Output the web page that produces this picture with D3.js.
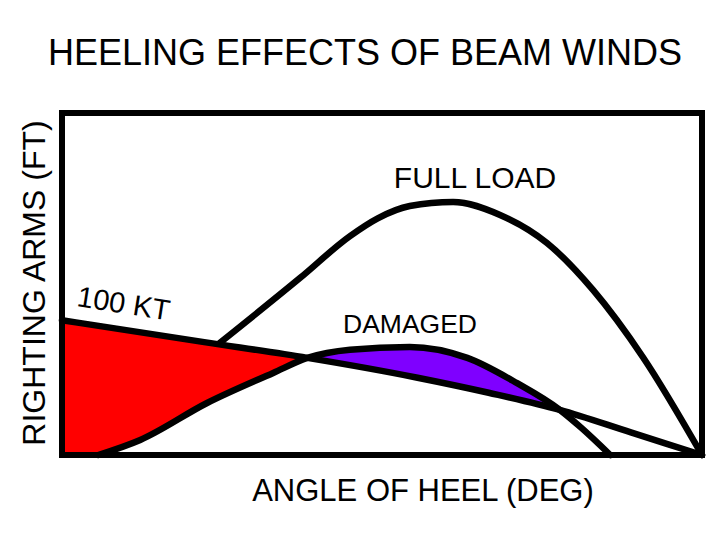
<!DOCTYPE html>
<html>
<head>
<meta charset="utf-8">
<script src="https://cdn.jsdelivr.net/npm/d3@7"></script>
<style>
  body { margin: 0; background: #fff; }
  text { font-family: "Liberation Sans", Arial, sans-serif; fill: #000; }
</style>
</head>
<body>
<div id="chart"></div>
<script>
// angle of heel (deg) / righting arm (ft)
const windArm = [[0, 1.97], [20, 1.65], [34.5, 1.42], [50, 1.13], [60, 0.91], [70, 0.66], [80, 0.33], [90, 0]];
const fullLoad = [[22.2, 1.64], [33.5, 2.59], [40.5, 3.20], [44.4, 3.46], [48.9, 3.64], [55, 3.70],
  [61.6, 3.51], [68.2, 3.10], [74.7, 2.41], [81.7, 1.43], [90, 0]];
const damaged = [[5.1, 0], [11, 0.22], [20.4, 0.76], [29.7, 1.20], [34.5, 1.42], [40.5, 1.54],
  [48.9, 1.58], [57, 1.42], [64, 1.05], [70, 0.66], [73, 0.40], [77.1, 0]];
const crossA = 34.5, crossB = 70;

const width = 720, height = 540;
const svg = d3.select("#chart")
  .append("svg")
  .attr("width", width)
  .attr("height", height);

const x = d3.scaleLinear().domain([0, 90]).range([62, 702]);
const y = d3.scaleLinear().domain([0, 5]).range([455, 113]);

const line = d3.line()
  .x(d => x(d[0]))
  .y(d => y(d[1]))
  .curve(d3.curveMonotoneX);

// red: wind arm above damaged curve
const redTop = windArm.filter(d => d[0] <= crossA);
const redBottom = damaged.filter(d => d[0] <= crossA).reverse();
const redPath = line(redTop) + "L" + line(redBottom).slice(1) +
  "L" + x(0) + "," + y(0) + "Z";
svg.append("path")
  .attr("d", redPath)
  .attr("fill", "#ff0000");

// purple: damaged curve above wind arm
const purTop = damaged.filter(d => d[0] >= crossA && d[0] <= crossB);
const purBottom = windArm.filter(d => d[0] >= crossA && d[0] <= crossB).reverse();
const purPath = line(purTop) + "L" + line(purBottom).slice(1) + "Z";
svg.append("path")
  .attr("d", purPath)
  .attr("fill", "#7f00ff");

// frame
svg.append("rect")
  .attr("x", x(0))
  .attr("y", y(5))
  .attr("width", x(90) - x(0))
  .attr("height", y(0) - y(5))
  .attr("fill", "none")
  .attr("stroke", "#000")
  .attr("stroke-width", 6);

[windArm, fullLoad, damaged].forEach(s => {
  svg.append("path")
    .attr("d", line(s))
    .attr("fill", "none")
    .attr("stroke", "#000")
    .attr("stroke-width", 6.5)
    .attr("stroke-linecap", "round")
    .attr("stroke-linejoin", "round");
});

// labels
svg.append("text")
  .attr("x", 365).attr("y", 65)
  .attr("text-anchor", "middle")
  .style("font-size", "36px")
  .text("HEELING EFFECTS OF BEAM WINDS");

svg.append("text")
  .attr("transform", "translate(45,283) rotate(-90)")
  .attr("text-anchor", "middle")
  .style("font-size", "32px")
  .text("RIGHTING ARMS (FT)");

svg.append("text")
  .attr("x", 423).attr("y", 501)
  .attr("text-anchor", "middle")
  .style("font-size", "31px")
  .text("ANGLE OF HEEL (DEG)");

svg.append("text")
  .attr("x", 475).attr("y", 188)
  .attr("text-anchor", "middle")
  .style("font-size", "30px")
  .text("FULL LOAD");

svg.append("text")
  .attr("x", 410).attr("y", 333)
  .attr("text-anchor", "middle")
  .style("font-size", "26.5px")
  .text("DAMAGED");

svg.append("text")
  .attr("transform", "translate(76,306) rotate(9)")
  .style("font-size", "29px")
  .text("100 KT");
</script>
</body>
</html>
